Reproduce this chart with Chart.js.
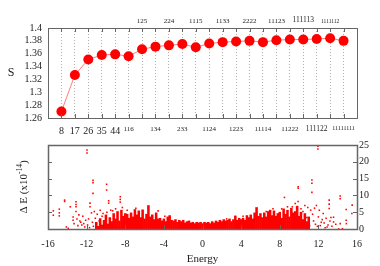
<!DOCTYPE html>
<html>
<head>
<meta charset="utf-8">
<script src="https://cdn.jsdelivr.net/npm/chart.js@4.4.0/dist/chart.umd.min.js"></script>
<style>
  html, body { margin: 0; padding: 0; background: #fff; }
  #wrap { position: relative; width: 380px; height: 266px; }
  canvas { position: absolute; left: 0; }
</style>
</head>
<body>
<div id="wrap">
  <canvas id="topChart" width="380" height="140" style="top:0"></canvas>
  <canvas id="botChart" width="380" height="136" style="top:130px"></canvas>
</div>
<script>
// top panel: S for each partition
const partitions = ['8', '17', '26', '35', '44', '116', '125', '134', '224', '233', '1115',
  '1124', '1133', '1223', '2222', '11114', '11123', '11222', '111113', '111122', '1111112', '11111111'];
const sValues = [1.270, 1.327, 1.351, 1.358, 1.359, 1.356, 1.367, 1.371, 1.373, 1.375, 1.370,
  1.376, 1.378, 1.379, 1.380, 1.378, 1.381, 1.382, 1.382, 1.383, 1.384, 1.380];
const bottomLabels = ['8', '17', '26', '35', '44', '116', '134', '233', '1124', '1223', '11114', '11222', '111122', '11111111'];
const topLabels = ['125', '224', '1115', '1133', '2222', '11123', '111113', '1111112'];
const sTicks = [1.26, 1.28, 1.3, 1.32, 1.34, 1.36, 1.38, 1.4];

// bottom panel: dense columns (energy, height) and isolated points
const colEnergy = [
  -11.0, -10.8, -10.6, -10.4, -10.2, -10.0, -9.8, -9.6, -9.4, -9.2,
  -9.0, -8.8, -8.6, -8.4, -8.2, -8.0, -7.8, -7.6, -7.4, -7.2,
  -7.0, -6.8, -6.6, -6.4, -6.2, -6.0, -5.8, -5.6, -5.4, -5.2,
  -5.0, -4.8, -4.6, -4.4, -4.2, -4.0, -3.8, -3.6, -3.4, -3.2,
  -3.0, -2.8, -2.6, -2.4, -2.2, -2.0, -1.8, -1.6, -1.4, -1.2,
  -1.0, -0.8, -0.6, -0.4, -0.2, 0.0, 0.2, 0.4, 0.6, 0.8,
  1.0, 1.2, 1.4, 1.6, 1.8, 2.0, 2.2, 2.4, 2.6, 2.8,
  3.0, 3.2, 3.4, 3.6, 3.8, 4.0, 4.2, 4.4, 4.6, 4.8,
  5.0, 5.2, 5.4, 5.6, 5.8, 6.0, 6.2, 6.4, 6.6, 6.8,
  7.0, 7.2, 7.4, 7.6, 7.8, 8.0, 8.2, 8.4, 8.6, 8.8,
  9.0, 9.2, 9.4, 9.6, 9.8, 10.0, 10.2, 10.4, 10.6, 10.8,
  11.0];
const colHeight = [
  2.0, 0.8, 3.1, 1.2, 2.6, 4.2, 1.5, 3.4, 2.2, 4.6,
  3.0, 5.2, 2.4, 5.6, 3.8, 4.6, 4.4, 3.2, 4.8, 3.6,
  5.8, 4.2, 5.4, 3.4, 5.7, 3.0, 4.4, 7.0, 3.6, 4.2,
  2.8, 4.8, 3.0, 3.2, 2.4, 3.0, 2.2, 3.6, 4.0, 2.6,
  2.4, 2.8, 2.0, 2.6, 2.2, 2.6, 1.8, 2.2, 2.4, 1.8,
  2.0, 1.6, 2.0, 1.8, 2.0, 1.6, 2.0, 1.8, 2.0, 1.6,
  2.2, 1.8, 2.4, 2.0, 2.6, 2.2, 2.8, 2.4, 2.6, 3.0,
  2.2, 2.8, 3.9, 2.6, 3.2, 2.8, 3.2, 2.6, 4.0, 3.4,
  4.2, 3.0, 4.8, 6.4, 3.8, 4.6, 3.4, 4.8, 3.6, 5.2,
  5.6, 4.0, 5.4, 3.8, 4.6, 5.0, 3.2, 6.0, 4.4, 5.6,
  3.6, 6.2, 4.8, 5.2, 6.8, 3.8, 5.0, 2.8, 4.6, 2.2,
  3.6];
const dotEnergy = [
  -16.0, -15.45, -15.45, -14.83, -14.83, -14.83, -14.28, -14.28, -14.1, -13.9,
  -13.69, -13.4, -13.4, -13.3, -13.1, -13.1, -13.1, -13.1, -13.0, -12.8,
  -12.7, -12.5, -12.4, -12.2, -11.96, -11.96, -11.8, -11.65, -11.65, -11.5,
  -11.34, -11.34, -11.34, -11.2, -10.9, -10.6, -10.4, -9.93, -9.93, -9.72,
  -9.72, -9.5, -9.0, -8.52, -8.52, -8.52, -8.3, -7.8, -6.9, -4.6,
  -3.9, 2.5, 4.2, 6.6, 7.3, 8.2, 8.49, 8.8, 9.3, 9.6,
  9.9, 9.91, 9.91, 10.2, 10.4, 10.6, 10.9, 11.2, 11.33, 11.33,
  11.33, 11.4, 11.6, 11.8, 11.9, 11.95, 11.95, 12.1, 12.3, 12.5,
  12.7, 12.8, 13.0, 13.12, 13.12, 13.12, 13.3, 13.57, 13.57, 14.1,
  14.26, 14.26, 14.26, 14.5, 14.88, 14.88, 14.9, 15.47, 15.5,
  -12.9, -12.6, -12.3, -12.1, -11.9, -11.7, -11.4, -11.3, -11.1, -10.7,
  -10.5, -10.3, -10.1, -9.9, -9.7, -9.3, -8.9, 11.5, 11.7, 12.0,
  12.2, 12.4, 12.6, 12.9, 13.2, 13.4, 13.8, 11.1, 10.8];
const dotDeltaE = [
  0.0, 5.4, 4.1, 5.9, 4.8, 3.9, 8.6, 8.2, 0.6, 0.2,
  6.6, 3.6, 2.6, 1.6, 8.1, 7.3, 6.6, 5.2, 3.0, 4.2,
  2.4, 1.2, 3.8, 0.6, 23.5, 22.6, 3.0, 7.7, 6.6, 4.8,
  14.5, 13.8, 10.6, 5.2, 4.4, 5.6, 3.8, 13.3, 11.6, 8.4,
  7.7, 5.6, 6.0, 9.6, 8.8, 8.0, 6.4, 5.6, 6.2, 5.4,
  3.8, 3.0, 3.8, 5.2, 6.0, 6.0, 9.4, 6.6, 6.6, 7.6,
  8.2, 12.6, 12.1, 6.0, 5.2, 7.0, 6.4, 5.6, 14.6, 13.6,
  10.9, 4.4, 6.2, 7.0, 0.8, 24.6, 23.8, 5.6, 2.0, 4.6,
  0.4, 3.2, 1.2, 8.6, 7.4, 6.1, 3.4, 3.5, 2.1, 0.0,
  9.8, 9.0, 1.6, 0.1, 5.8, 2.6, 1.6, 4.6, 7.1,
  1.0, 2.0, 1.6, 2.6, 1.2, 0.4, 2.0, 0.8, 3.2, 2.4,
  0.6, 4.6, 1.0, 5.0, 0.4, 5.4, 0.6, 2.4, 1.4, 3.6,
  1.0, 2.8, 1.8, 0.6, 2.4, 0.8, 1.4, 1.0, 3.4];
const energyTicks = [-12, -8, -4, 0, 4, 8, 12];
const deltaTicks = [5, 10, 15, 20];

const SERIF = "'Liberation Serif', 'DejaVu Serif', serif";
const TXT = '#222';
const fontByLength = { 1: 10, 2: 10, 3: 7, 4: 7, 5: 7, 6: 7.5, 7: 5.5, 8: 6 };

function catFont(ctx) {
  const lab = ctx.tick ? partitions[ctx.tick.value] : '';
  return { family: SERIF, size: fontByLength[(lab || '').length] || 8 };
}

// frame, inward tick marks and axis titles
const topDecor = {
  id: 'topDecor',
  afterDraw(chart) {
    const { ctx, chartArea: a, scales } = chart;
    ctx.save();
    ctx.strokeStyle = '#666';
    ctx.lineWidth = 1;
    ctx.strokeRect(a.left + 0.5, a.top + 0.5, a.right - a.left, a.bottom - a.top);
    ctx.beginPath();
    partitions.forEach((p, i) => {
      const x = Math.round(scales.x.getPixelForValue(i)) + 0.5;
      ctx.moveTo(x, a.bottom); ctx.lineTo(x, a.bottom - 4);
      ctx.moveTo(x, a.top); ctx.lineTo(x, a.top + 4);
    });
    ctx.stroke();
    ctx.fillStyle = TXT;
    ctx.font = '12px ' + SERIF;
    ctx.textAlign = 'center';
    ctx.textBaseline = 'alphabetic';
    ctx.fillText('S', 11, 76);
    ctx.restore();
  }
};

const botDecor = {
  id: 'botDecor',
  afterDraw(chart) {
    const { ctx, chartArea: a, scales } = chart;
    ctx.save();
    ctx.strokeStyle = '#666';
    ctx.lineWidth = 1.5;
    ctx.strokeRect(a.left + 0.5, a.top + 0.5, a.right - a.left, a.bottom - a.top);
    ctx.lineWidth = 1;
    ctx.beginPath();
    energyTicks.forEach(e => {
      const x = Math.round(scales.x.getPixelForValue(e)) + 0.5;
      ctx.moveTo(x, a.bottom); ctx.lineTo(x, a.bottom - 4);
    });
    deltaTicks.forEach(d => {
      const y = Math.round(scales.y.getPixelForValue(d)) + 0.5;
      ctx.moveTo(a.left, y); ctx.lineTo(a.left + 4, y);
      ctx.moveTo(a.right, y); ctx.lineTo(a.right - 4, y);
    });
    ctx.stroke();

    ctx.fillStyle = TXT;
    ctx.font = '11px ' + SERIF;
    ctx.textAlign = 'center';
    ctx.textBaseline = 'alphabetic';
    ctx.fillText('Energy', (a.left + a.right) / 2, 132);

    // rotated "Δ E (x10^-14)"
    ctx.translate(26.5, (a.top + a.bottom) / 2);
    ctx.rotate(-Math.PI / 2);
    ctx.textAlign = 'left';
    const big = '11px ' + SERIF, small = '7.5px ' + SERIF;
    const p1 = 'Δ E (x10', p2 = '-14', p3 = ')';
    ctx.font = big; const w1 = ctx.measureText(p1).width, w3 = ctx.measureText(p3).width;
    ctx.font = small; const w2 = ctx.measureText(p2).width;
    let x0 = -(w1 + w2 + w3) / 2;
    ctx.font = big; ctx.fillText(p1, x0, 0);
    ctx.font = small; ctx.fillText(p2, x0 + w1, -4.5);
    ctx.font = big; ctx.fillText(p3, x0 + w1 + w2, 0);
    ctx.restore();
  }
};

new Chart(document.getElementById('topChart'), {
  type: 'line',
  data: {
    datasets: [{
      data: sValues.map((v, i) => ({ x: i, y: v })),
      borderColor: '#ff7a7a',
      borderWidth: 1,
      pointRadius: 5,
      pointBackgroundColor: '#ff0000',
      pointBorderColor: '#ff0000',
      pointBorderWidth: 0,
      tension: 0,
    }],
  },
  options: {
    responsive: false,
    animation: false,
    events: [],
    layout: { padding: { left: 0, right: 23, top: 0, bottom: 0 } },
    plugins: { legend: { display: false }, tooltip: { enabled: false } },
    scales: {
      x: {
        type: 'linear', position: 'bottom', min: -1, max: 22,
        afterBuildTicks: s => { s.ticks = partitions.map((p, i) => ({ value: i })); },
        afterFit: s => { s.height = 22; },
        grid: { color: '#b0b0b0', lineWidth: 1, drawTicks: false },
        border: { display: false, dash: [1, 2] },
        ticks: {
          autoSkip: false, maxRotation: 0, minRotation: 0, padding: 7, color: TXT,
          font: catFont,
          callback: v => (bottomLabels.includes(partitions[v]) ? partitions[v] : ''),
        },
      },
      x2: {
        type: 'linear', position: 'top', min: -1, max: 22,
        afterBuildTicks: s => { s.ticks = partitions.map((p, i) => ({ value: i })); },
        afterFit: s => { s.height = 28; },
        grid: { display: false, drawTicks: false },
        border: { display: false },
        ticks: {
          autoSkip: false, maxRotation: 0, minRotation: 0, padding: 3, color: TXT,
          font: catFont,
          callback: v => (topLabels.includes(partitions[v]) ? partitions[v] : ''),
        },
      },
      y: {
        min: 1.26, max: 1.4,
        afterBuildTicks: s => { s.ticks = sTicks.map(v => ({ value: v })); },
        afterFit: s => { s.width = 48; },
        grid: { display: false, drawTicks: false },
        border: { display: false },
        ticks: {
          autoSkip: false, padding: 6, color: TXT,
          font: { family: SERIF, size: 10 },
          callback: v => String(+v.toFixed(2)),
        },
      },
    },
  },
  plugins: [topDecor],
});

new Chart(document.getElementById('botChart'), {
  type: 'scatter',
  data: {
    datasets: [
      {
        type: 'bar',
        data: colEnergy.map((e, i) => ({ x: e, y: colHeight[i] })),
        backgroundColor: '#ff0000',
        borderWidth: 0,
        barThickness: 1.9,
      },
      {
        type: 'scatter',
        data: dotEnergy.map((e, i) => ({ x: e, y: dotDeltaE[i] })),
        pointStyle: 'rect',
        pointRadius: 1.1,
        backgroundColor: '#ff0000',
        borderWidth: 0,
      },
    ],
  },
  options: {
    responsive: false,
    animation: false,
    events: [],
    layout: { padding: { left: 48, right: 0, top: 15, bottom: 0 } },
    plugins: { legend: { display: false }, tooltip: { enabled: false } },
    scales: {
      x: {
        type: 'linear', min: -16, max: 16, offset: false,
        afterFit: s => { s.height = 37; },
        grid: { display: false, drawTicks: false },
        border: { display: false },
        ticks: { stepSize: 4, padding: 9, color: TXT, font: { family: SERIF, size: 10 } },
      },
      y: {
        position: 'right', min: 0, max: 25,
        afterFit: s => { s.width = 23; },
        grid: { display: false, drawTicks: false },
        border: { display: false },
        ticks: { stepSize: 5, padding: 2, color: TXT, font: { family: SERIF, size: 10 } },
      },
    },
  },
  plugins: [botDecor],
});
</script>
</body>
</html>
